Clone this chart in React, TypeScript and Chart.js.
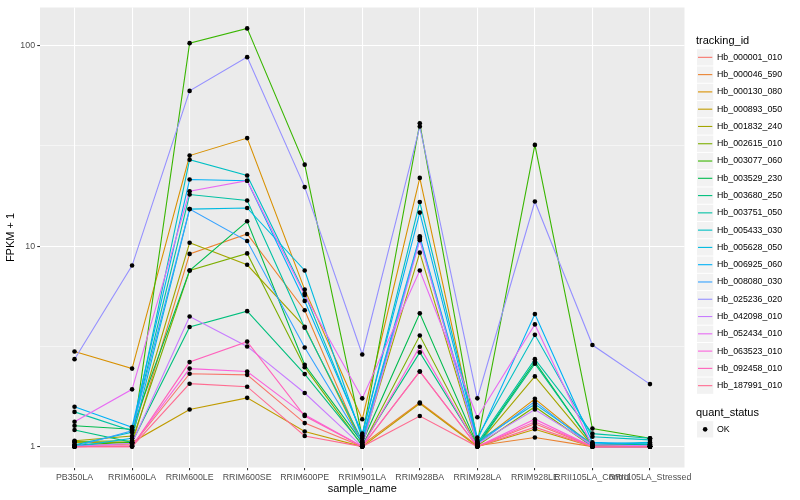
import React, { useEffect, useRef } from "react";
import { Chart, registerables } from "chart.js";

Chart.register(...registerables);

const FONT = '"Liberation Sans", Arial, Helvetica, sans-serif';

const categories = [
  "PB350LA",
  "RRIM600LA",
  "RRIM600LE",
  "RRIM600SE",
  "RRIM600PE",
  "RRIM901LA",
  "RRIM928BA",
  "RRIM928LA",
  "RRIM928LE",
  "RRII105LA_Control",
  "RRII105LA_Stressed",
];

const trackingIds = [
  "Hb_000001_010",
  "Hb_000046_590",
  "Hb_000130_080",
  "Hb_000893_050",
  "Hb_001832_240",
  "Hb_002615_010",
  "Hb_003077_060",
  "Hb_003529_230",
  "Hb_003680_250",
  "Hb_003751_050",
  "Hb_005433_030",
  "Hb_005628_050",
  "Hb_006925_060",
  "Hb_008080_030",
  "Hb_025236_020",
  "Hb_042098_010",
  "Hb_052434_010",
  "Hb_063523_010",
  "Hb_092458_010",
  "Hb_187991_010",
];

const seriesColors = [
  "#F8766D", "#EA8331", "#D89000", "#C09B00", "#A3A500",
  "#7CAE00", "#39B600", "#00BB4E", "#00BF7D", "#00C1A3",
  "#00BFC4", "#00BAE0", "#00B0F6", "#35A2FF", "#9590FF",
  "#C77CFF", "#E76BF3", "#FA62DB", "#FF62BC", "#FF6C91",
];

// FPKM + 1 per sample, in category order
const hb_000001_010 = [1.0, 1.01, 2.31, 2.28, 1.31, 1.0, 2.37, 1.0, 1.3, 1.0, 1.0];
const hb_000046_590 = [1.01, 1.03, 9.15, 11.5, 4.79, 1.02, 1.66, 1.01, 1.11, 1.0, 1.0];
const hb_000130_080 = [2.98, 2.45, 28.3, 34.6, 6.07, 1.37, 21.9, 1.04, 1.73, 1.01, 1.0];
const hb_000893_050 = [1.05, 1.05, 1.53, 1.75, 1.19, 1.0, 1.64, 1.0, 1.22, 1.0, 1.0];
const hb_001832_240 = [1.07, 1.13, 10.4, 8.07, 3.96, 1.03, 9.28, 1.02, 2.24, 1.01, 1.02];
const hb_002615_010 = [1.06, 1.07, 7.56, 9.2, 2.49, 1.01, 3.58, 1.01, 1.58, 1.0, 1.0];
const hb_003077_060 = [1.02, 1.05, 103, 122, 25.5, 1.12, 41, 1.05, 32, 1.23, 1.1];
const hb_003529_230 = [1.27, 1.22, 7.56, 13.3, 2.56, 1.05, 4.62, 1.02, 2.65, 1.02, 1.03];
const hb_003680_250 = [1.21, 1.05, 3.95, 4.74, 2.3, 1.02, 2.95, 1.01, 2.59, 1.03, 1.02];
const hb_003751_050 = [1.49, 1.2, 18.1, 16.9, 3.92, 1.07, 10.9, 1.04, 2.73, 1.16, 1.1];
const hb_005433_030 = [1.02, 1.18, 27, 22.5, 5.8, 1.14, 16.6, 1.11, 3.61, 1.12, 1.08];
const hb_005628_050 = [1.0, 1.1, 15.3, 15.5, 7.56, 1.1, 11.2, 1.06, 1.63, 1.03, 1.05];
const hb_006925_060 = [1.58, 1.25, 21.5, 21.2, 5.33, 1.16, 14.7, 1.08, 4.58, 1.05, 1.03];
const hb_008080_030 = [1.0, 1.2, 15.3, 10.6, 3.12, 1.05, 11.0, 1.03, 1.68, 1.0, 1.0];
const hb_025236_020 = [2.73, 8.0, 59.5, 87.7, 19.7, 2.88, 39.5, 1.74, 16.7, 3.21, 2.05];
const hb_042098_010 = [1.0, 1.04, 4.46, 3.16, 1.85, 1.0, 10.7, 1.03, 1.53, 1.02, 1.01];
const hb_052434_010 = [1.33, 1.93, 18.8, 21.2, 5.7, 1.74, 7.56, 1.4, 4.07, 1.0, 1.0];
const hb_063523_010 = [1.0, 1.01, 2.45, 2.37, 1.44, 1.0, 3.15, 1.0, 1.37, 1.0, 1.0];
const hb_092458_010 = [1.0, 1.0, 2.64, 3.34, 1.42, 1.0, 2.37, 1.0, 1.33, 1.0, 1.0];
const hb_187991_010 = [1.0, 1.0, 2.06, 1.99, 1.13, 1.0, 1.42, 1.0, 1.25, 1.0, 1.0];

const seriesValues = [
  hb_000001_010, hb_000046_590, hb_000130_080, hb_000893_050, hb_001832_240,
  hb_002615_010, hb_003077_060, hb_003529_230, hb_003680_250, hb_003751_050,
  hb_005433_030, hb_005628_050, hb_006925_060, hb_008080_030, hb_025236_020,
  hb_042098_010, hb_052434_010, hb_063523_010, hb_092458_010, hb_187991_010,
];

const yMajorTicks = [1, 10, 100];
const quantStatus = ["OK"];

export default function App() {
  const canvasRef = useRef<HTMLCanvasElement | null>(null);

  useEffect(() => {
    const canvas = canvasRef.current;
    if (!canvas) return;

    const all = seriesValues.flat();
    const lmin = Math.log10(Math.min(...all));
    const lmax = Math.log10(Math.max(...all));
    const pad = (lmax - lmin) * 0.05;
    const yMin = Math.pow(10, lmin - pad);
    const yMax = Math.pow(10, lmax + pad);

    const yMinor = yMajorTicks.slice(0, -1).map((v) => v * Math.sqrt(10));
    const yAllTicks = [...yMajorTicks, ...yMinor].sort((a, b) => a - b);
    const isMajor = (v: number) => yMajorTicks.some((m) => Math.abs(m - v) < 1e-9);

    const panelBg = {
      id: "panelBg",
      beforeDraw(chart: any) {
        const { ctx, chartArea: a } = chart;
        ctx.save();
        ctx.fillStyle = "#FFFFFF";
        ctx.fillRect(0, 0, chart.width, chart.height);
        ctx.fillStyle = "#EBEBEB";
        ctx.fillRect(a.left, a.top, a.right - a.left, a.bottom - a.top);
        ctx.restore();
      },
    };

    const ggLegend = {
      id: "ggLegend",
      afterDraw(chart: any) {
        const ctx = chart.ctx as CanvasRenderingContext2D;
        ctx.save();
        ctx.textAlign = "left";
        ctx.textBaseline = "middle";
        const keyX = 696.5;
        const keySize = 17.28;
        const textX = 717;
        ctx.fillStyle = "#000";
        ctx.font = `11px ${FONT}`;
        ctx.fillText("tracking_id", 696, 40.7);
        const top0 = 48.7;
        trackingIds.forEach((id, i) => {
          const y = top0 + i * keySize;
          const cy = y + keySize / 2;
          ctx.fillStyle = "#F2F2F2";
          ctx.fillRect(keyX + 0.5, y + 0.5, keySize - 1, keySize - 1);
          ctx.strokeStyle = seriesColors[i];
          ctx.lineWidth = 1.1;
          ctx.beginPath();
          ctx.moveTo(keyX + 1.5, cy);
          ctx.lineTo(keyX + keySize - 1.5, cy);
          ctx.stroke();
          ctx.fillStyle = "#000";
          ctx.font = `8.8px ${FONT}`;
          ctx.fillText(id, textX, cy);
        });
        ctx.font = `11px ${FONT}`;
        ctx.fillStyle = "#000";
        ctx.fillText("quant_status", 696, 412.7);
        quantStatus.forEach((q, i) => {
          const y = 420.7 + i * keySize;
          const cy = y + keySize / 2;
          ctx.fillStyle = "#F2F2F2";
          ctx.fillRect(keyX + 0.5, y + 0.5, keySize - 1, keySize - 1);
          ctx.fillStyle = "#000";
          ctx.beginPath();
          ctx.arc(keyX + keySize / 2, cy, 2.3, 0, Math.PI * 2);
          ctx.fill();
          ctx.font = `8.8px ${FONT}`;
          ctx.fillText(q, textX, cy);
        });
        ctx.restore();
      },
    };

    const lineSets = seriesValues.map((vals, i) => ({
      type: "line" as const,
      label: trackingIds[i],
      data: vals.map((v, j) => ({ x: j, y: v })),
      borderColor: seriesColors[i],
      backgroundColor: seriesColors[i],
      borderWidth: 1.1,
      pointRadius: 0,
      pointHoverRadius: 0,
      fill: false,
      tension: 0,
      order: 100 - i,
    }));

    const pointSets = seriesValues.map((vals, i) => ({
      type: "line" as const,
      label: trackingIds[i] + " OK",
      data: vals.map((v, j) => ({ x: j, y: v })),
      showLine: false,
      pointRadius: 2.3,
      pointHoverRadius: 2.3,
      pointBackgroundColor: "#000",
      pointBorderWidth: 0,
      pointBorderColor: "#000",
      order: 0,
    }));

    const chart = new Chart(canvas, {
      type: "line",
      data: { datasets: [...lineSets, ...pointSets] as any },
      plugins: [panelBg, ggLegend],
      options: {
        animation: false,
        responsive: false,
        devicePixelRatio: 1,
        layout: { padding: { top: 5.5, right: 115.5, left: 0, bottom: 0 } },
        plugins: { legend: { display: false }, tooltip: { enabled: false } },
        scales: {
          x: {
            type: "linear",
            min: -0.6,
            max: categories.length - 1 + 0.6,
            afterBuildTicks: (s: any) => {
              s.ticks = categories.map((_, i) => ({ value: i }));
            },
            afterFit: (s: any) => {
              s.height = 500 - 467.5;
            },
            ticks: {
              autoSkip: false,
              maxRotation: 0,
              minRotation: 0,
              padding: 2.2,
              color: "#4D4D4D",
              font: { family: FONT, size: 8.8 },
              callback: (_v: any, index: number) => categories[index],
            },
            grid: {
              color: "#FFFFFF",
              lineWidth: 1.07,
              drawTicks: true,
              tickLength: 2.75,
              tickColor: "#333333",
              tickWidth: 1.07,
            },
            border: { display: false },
            title: {
              display: true,
              text: "sample_name",
              color: "#000",
              font: { family: FONT, size: 11 },
              padding: { top: 0, bottom: 4.4 },
            },
          },
          y: {
            type: "logarithmic",
            min: yMin,
            max: yMax,
            afterBuildTicks: (s: any) => {
              s.ticks = yAllTicks.map((v) => ({ value: v }));
            },
            afterFit: (s: any) => {
              s.width = 40;
            },
            ticks: {
              autoSkip: false,
              padding: 2.2,
              color: "#4D4D4D",
              font: { family: FONT, size: 8.8 },
              callback: (v: any) => (isMajor(Number(v)) ? String(Math.round(Number(v))) : ""),
            },
            grid: {
              color: "#FFFFFF",
              lineWidth: (c: any) => (c.tick && isMajor(c.tick.value) ? 1.07 : 0.53),
              drawTicks: true,
              tickLength: 2.75,
              tickColor: (c: any) => (c.tick && isMajor(c.tick.value) ? "#333333" : "rgba(0,0,0,0)"),
              tickWidth: 1.07,
            },
            border: { display: false },
            title: {
              display: true,
              text: "FPKM + 1",
              color: "#000",
              font: { family: FONT, size: 11 },
              padding: { top: 4.4, bottom: 0 },
            },
          },
        },
      } as any,
    });

    return () => {
      chart.destroy();
    };
  }, []);

  return (
    <div style={{ position: "absolute", left: 0, top: 0, width: 800, height: 500, background: "#fff" }}>
      <canvas ref={canvasRef} width={800} height={500} style={{ display: "block", width: 800, height: 500 }} />
    </div>
  );
}
